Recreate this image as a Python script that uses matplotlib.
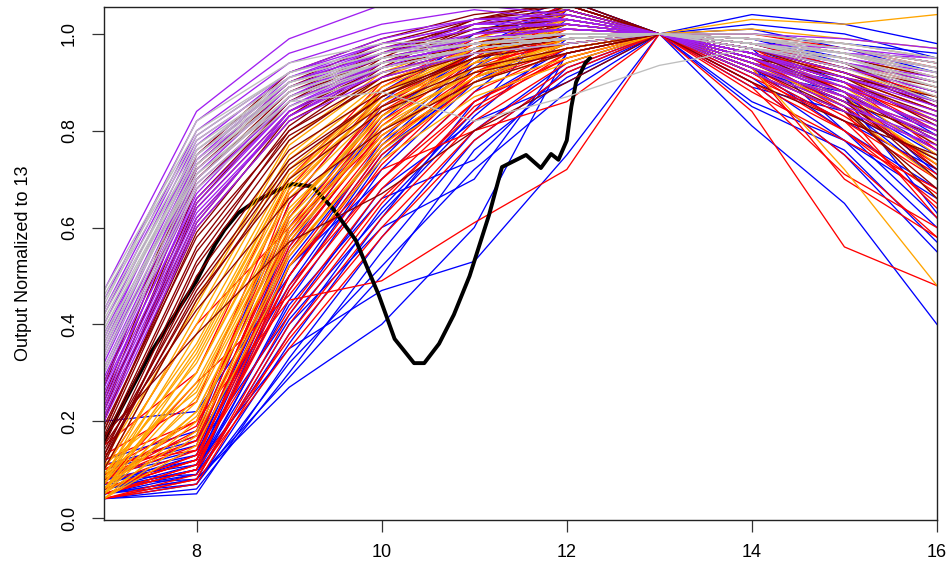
import matplotlib
matplotlib.use("Agg")
import matplotlib.pyplot as plt

plt.rcParams['font.family'] = ['Liberation Sans', 'DejaVu Sans']

x_pts = [7, 8, 9, 10, 11, 12, 13, 14, 15, 16]

blue_lines = [
    [0.05, 0.07, 0.36, 0.62, 0.86, 0.97, 1, 0.93, 0.80, 0.62],
    [0.06, 0.09, 0.45, 0.72, 0.90, 1.00, 1, 0.96, 0.88, 0.78],
    [0.08, 0.12, 0.55, 0.80, 0.93, 1.02, 1, 0.90, 0.75, 0.55],
    [0.04, 0.06, 0.30, 0.55, 0.78, 0.92, 1, 0.97, 0.92, 0.85],
    [0.10, 0.15, 0.60, 0.85, 0.97, 1.04, 1, 0.98, 0.93, 0.88],
    [0.07, 0.08, 0.27, 0.40, 0.60, 0.96, 1, 0.81, 0.65, 0.40],
    [0.05, 0.10, 0.50, 0.78, 0.95, 1.06, 1, 1.01, 0.97, 0.92],
    [0.09, 0.14, 0.42, 0.68, 0.82, 0.90, 1, 0.95, 0.85, 0.70],
    [0.06, 0.11, 0.35, 0.47, 0.53, 0.75, 1, 0.92, 0.82, 0.72],
    [0.12, 0.18, 0.65, 0.88, 0.99, 1.05, 1, 0.99, 0.95, 0.90],
    [0.05, 0.08, 0.40, 0.60, 0.70, 0.96, 1, 0.86, 0.78, 0.60],
    [0.07, 0.13, 0.58, 0.83, 0.96, 0.99, 1, 0.94, 0.90, 0.82],
    [0.04, 0.05, 0.33, 0.58, 0.80, 0.94, 1, 0.91, 0.78, 0.66],
    [0.11, 0.16, 0.48, 0.75, 0.91, 0.97, 1, 1.02, 1.00, 0.95],
    [0.06, 0.10, 0.44, 0.66, 0.74, 0.93, 1, 0.89, 0.84, 0.74],
    [0.08, 0.09, 0.52, 0.70, 0.88, 1.03, 1, 0.97, 0.80, 0.68],
    [0.20, 0.22, 0.50, 0.76, 0.90, 0.98, 1, 0.95, 0.87, 0.76],
    [0.05, 0.09, 0.38, 0.64, 0.84, 1.05, 1, 0.99, 0.94, 0.86],
    [0.07, 0.12, 0.47, 0.74, 0.93, 1.07, 1, 1.04, 1.02, 0.98],
    [0.04, 0.07, 0.32, 0.52, 0.72, 0.88, 1, 0.93, 0.86, 0.75],
    [0.09, 0.13, 0.56, 0.82, 0.97, 1.06, 1, 0.95, 0.87, 0.63],
    [0.06, 0.10, 0.41, 0.63, 0.83, 0.99, 1, 0.92, 0.88, 0.71],
    [0.10, 0.17, 0.62, 0.86, 1.00, 1.07, 1, 1.00, 0.98, 0.96],
    [0.05, 0.08, 0.29, 0.50, 0.76, 0.91, 1, 0.85, 0.76, 0.57],
    [0.08, 0.11, 0.53, 0.77, 0.94, 1.04, 1, 0.97, 0.90, 0.79],
]

red_lines = [
    [0.04, 0.08, 0.40, 0.65, 0.85, 0.95, 1, 0.92, 0.80, 0.65],
    [0.05, 0.10, 0.50, 0.75, 0.90, 0.98, 1, 0.96, 0.90, 0.80],
    [0.06, 0.12, 0.55, 0.80, 0.93, 0.99, 1, 0.94, 0.86, 0.73],
    [0.08, 0.15, 0.60, 0.84, 0.95, 1.00, 1, 0.98, 0.93, 0.87],
    [0.10, 0.17, 0.62, 0.86, 0.96, 1.01, 1, 0.97, 0.92, 0.85],
    [0.04, 0.09, 0.35, 0.58, 0.78, 0.92, 1, 0.90, 0.75, 0.58],
    [0.10, 0.20, 0.45, 0.49, 0.61, 0.72, 1, 0.94, 0.86, 0.76],
    [0.06, 0.13, 0.52, 0.72, 0.80, 0.86, 1, 0.84, 0.56, 0.48],
    [0.05, 0.11, 0.48, 0.70, 0.88, 0.97, 1, 0.93, 0.70, 0.58],
    [0.12, 0.20, 0.65, 0.88, 0.98, 1.03, 1, 0.99, 0.96, 0.91],
    [0.04, 0.07, 0.38, 0.62, 0.82, 0.94, 1, 0.88, 0.78, 0.68],
    [0.09, 0.16, 0.58, 0.82, 0.94, 0.98, 1, 0.95, 0.84, 0.62],
    [0.15, 0.30, 0.70, 0.90, 0.97, 1.02, 1, 1.00, 0.97, 0.94],
    [0.06, 0.12, 0.43, 0.68, 0.86, 0.96, 1, 0.91, 0.82, 0.70],
    [0.05, 0.10, 0.52, 0.77, 0.91, 1.05, 1, 0.97, 0.88, 0.72],
    [0.08, 0.18, 0.67, 0.87, 0.95, 0.99, 1, 0.93, 0.87, 0.80],
    [0.11, 0.14, 0.56, 0.79, 0.92, 0.99, 1, 0.96, 0.91, 0.84],
    [0.07, 0.28, 0.46, 0.70, 0.86, 0.95, 1, 0.94, 0.89, 0.82],
    [0.05, 0.11, 0.47, 0.73, 0.91, 1.04, 1, 0.98, 0.94, 0.89],
    [0.07, 0.14, 0.57, 0.81, 0.95, 1.06, 1, 0.96, 0.90, 0.76],
    [0.04, 0.08, 0.42, 0.66, 0.84, 0.96, 1, 0.90, 0.80, 0.67],
    [0.09, 0.19, 0.63, 0.85, 0.96, 1.02, 1, 0.93, 0.83, 0.71],
    [0.06, 0.13, 0.50, 0.76, 0.92, 1.01, 1, 0.99, 0.97, 0.93],
    [0.13, 0.24, 0.68, 0.89, 0.99, 1.06, 1, 0.98, 0.95, 0.90],
    [0.05, 0.10, 0.37, 0.60, 0.80, 0.93, 1, 0.89, 0.71, 0.60],
    [0.08, 0.16, 0.59, 0.83, 0.97, 1.05, 1, 0.95, 0.85, 0.73],
    [0.06, 0.12, 0.54, 0.78, 0.90, 0.97, 1, 0.92, 0.82, 0.64],
    [0.10, 0.40, 0.60, 0.79, 0.91, 0.97, 1, 0.96, 0.92, 0.86],
]

black_x = [7.0, 7.5, 8.0, 8.2, 8.3, 8.45, 8.64, 8.85, 9.03, 9.25, 9.47, 9.72,
           9.86, 9.97, 10.14, 10.35, 10.46, 10.62, 10.78, 10.95, 11.16, 11.3,
           11.56, 11.72, 11.83, 11.91, 12.0, 12.05, 12.1, 12.2, 12.25]
black_y = [0.16, 0.34, 0.49, 0.565, 0.595, 0.63, 0.655, 0.675, 0.69, 0.685,
           0.64, 0.574, 0.51, 0.46, 0.37, 0.32, 0.32, 0.36, 0.42, 0.50,
           0.626, 0.725, 0.75, 0.723, 0.752, 0.74, 0.78, 0.85, 0.90, 0.94, 0.95]

orange_lines = [
    [0.04, 0.20, 0.58, 0.78, 0.90, 0.96, 1, 0.96, 0.90, 0.82],
    [0.05, 0.25, 0.62, 0.82, 0.92, 0.98, 1, 0.97, 0.92, 0.86],
    [0.06, 0.30, 0.66, 0.85, 0.94, 0.99, 1, 0.95, 0.88, 0.78],
    [0.07, 0.35, 0.70, 0.87, 0.95, 1.00, 1, 0.98, 0.94, 0.90],
    [0.08, 0.28, 0.64, 0.83, 0.93, 0.97, 1, 0.93, 0.72, 0.48],
    [0.10, 0.40, 0.74, 0.89, 0.97, 1.02, 1, 0.99, 0.96, 0.93],
    [0.05, 0.18, 0.55, 0.76, 0.89, 0.95, 1, 0.94, 0.86, 0.74],
    [0.12, 0.44, 0.77, 0.91, 0.98, 1.03, 1, 1.00, 0.98, 0.95],
    [0.06, 0.22, 0.60, 0.80, 0.91, 0.97, 1, 0.96, 0.91, 0.84],
    [0.09, 0.32, 0.68, 0.86, 0.95, 1.01, 1, 0.97, 0.93, 0.88],
    [0.04, 0.15, 0.52, 0.74, 0.87, 0.94, 1, 0.92, 0.84, 0.70],
    [0.07, 0.38, 0.72, 0.88, 0.96, 0.99, 1, 0.98, 0.95, 0.91],
    [0.11, 0.26, 0.63, 0.84, 0.93, 0.98, 1, 0.95, 0.89, 0.80],
    [0.05, 0.33, 0.69, 0.86, 0.94, 1.06, 1, 1.03, 1.02, 1.04],
    [0.08, 0.42, 0.75, 0.90, 0.97, 1.01, 1, 0.97, 0.92, 0.87],
    [0.06, 0.24, 0.61, 0.81, 0.92, 0.97, 1, 0.94, 0.85, 0.66],
    [0.05, 0.22, 0.59, 0.80, 0.93, 1.03, 1, 0.98, 0.95, 0.91],
    [0.07, 0.30, 0.67, 0.87, 0.97, 1.05, 1, 0.96, 0.89, 0.77],
    [0.06, 0.27, 0.63, 0.83, 0.95, 1.02, 1, 0.99, 0.97, 0.94],
    [0.09, 0.36, 0.71, 0.88, 0.96, 1.00, 1, 0.95, 0.87, 0.73],
    [0.04, 0.17, 0.54, 0.77, 0.90, 0.98, 1, 0.93, 0.87, 0.79],
    [0.10, 0.45, 0.78, 0.92, 0.99, 1.04, 1, 1.01, 0.99, 0.97],
    [0.08, 0.34, 0.70, 0.88, 0.97, 1.03, 1, 0.97, 0.91, 0.82],
    [0.06, 0.21, 0.57, 0.79, 0.91, 0.99, 1, 0.94, 0.88, 0.75],
]

darkred_lines = [
    [0.10, 0.45, 0.72, 0.85, 0.93, 0.97, 1, 0.95, 0.88, 0.78],
    [0.12, 0.50, 0.76, 0.88, 0.95, 0.98, 1, 0.97, 0.92, 0.85],
    [0.15, 0.55, 0.79, 0.90, 0.96, 0.99, 1, 0.96, 0.90, 0.82],
    [0.18, 0.60, 0.82, 0.92, 0.97, 1.00, 1, 0.98, 0.94, 0.90],
    [0.20, 0.64, 0.84, 0.93, 0.98, 1.02, 1, 0.94, 0.86, 0.72],
    [0.22, 0.68, 0.87, 0.95, 0.99, 1.01, 1, 0.97, 0.93, 0.88],
    [0.25, 0.72, 0.89, 0.97, 1.02, 1.04, 1, 0.99, 0.96, 0.92],
    [0.14, 0.48, 0.74, 0.87, 0.96, 1.06, 1, 0.96, 0.91, 0.84],
    [0.17, 0.38, 0.57, 0.67, 0.80, 0.90, 1, 0.92, 0.84, 0.74],
    [0.11, 0.52, 0.78, 0.91, 1.00, 1.05, 1, 0.95, 0.89, 0.80],
    [0.19, 0.58, 0.80, 0.91, 0.96, 0.98, 1, 0.93, 0.85, 0.66],
    [0.27, 0.75, 0.92, 0.99, 1.04, 1.06, 1, 0.98, 0.95, 0.91],
    [0.13, 0.46, 0.70, 0.84, 0.92, 0.96, 1, 0.90, 0.82, 0.75],
    [0.21, 0.62, 0.83, 0.93, 0.97, 1.00, 1, 0.97, 0.92, 0.86],
    [0.16, 0.56, 0.81, 0.94, 1.01, 1.03, 1, 0.96, 0.88, 0.77],
    [0.23, 0.66, 0.86, 0.94, 0.98, 0.99, 1, 0.95, 0.91, 0.87],
    [0.13, 0.53, 0.80, 0.93, 1.02, 1.07, 1, 0.97, 0.93, 0.89],
    [0.17, 0.59, 0.83, 0.95, 1.03, 1.06, 1, 0.95, 0.87, 0.70],
    [0.24, 0.70, 0.88, 0.96, 1.01, 1.03, 1, 0.98, 0.94, 0.85],
    [0.12, 0.47, 0.73, 0.87, 0.95, 1.00, 1, 0.93, 0.84, 0.68],
    [0.20, 0.65, 0.86, 0.96, 1.03, 1.07, 1, 0.99, 0.97, 0.94],
    [0.15, 0.43, 0.66, 0.80, 0.90, 0.96, 1, 0.94, 0.86, 0.79],
    [0.28, 0.73, 0.90, 0.98, 1.03, 1.05, 1, 0.96, 0.90, 0.83],
    [0.18, 0.61, 0.84, 0.94, 1.00, 1.02, 1, 0.97, 0.91, 0.81],
]

purple_lines = [
    [0.20, 0.60, 0.82, 0.91, 0.96, 0.98, 1, 0.96, 0.90, 0.82],
    [0.25, 0.65, 0.85, 0.93, 0.97, 0.99, 1, 0.97, 0.92, 0.86],
    [0.30, 0.70, 0.87, 0.94, 0.98, 1.00, 1, 0.95, 0.88, 0.78],
    [0.35, 0.74, 0.89, 0.95, 0.99, 1.01, 1, 0.98, 0.94, 0.90],
    [0.40, 0.78, 0.91, 0.97, 1.01, 1.02, 1, 0.96, 0.90, 0.84],
    [0.45, 0.82, 0.96, 1.02, 1.05, 1.03, 1, 0.99, 0.96, 0.93],
    [0.47, 0.84, 0.99, 1.06, 1.06, 1.04, 1, 0.98, 0.97, 0.95],
    [0.22, 0.62, 0.83, 0.92, 0.97, 0.99, 1, 0.94, 0.86, 0.76],
    [0.28, 0.68, 0.86, 0.93, 0.97, 0.99, 1, 0.97, 0.93, 0.88],
    [0.33, 0.72, 0.88, 0.95, 0.98, 1.00, 1, 0.93, 0.87, 0.80],
    [0.38, 0.76, 0.90, 0.96, 0.99, 1.01, 1, 0.97, 0.94, 0.91],
    [0.24, 0.64, 0.84, 0.92, 0.96, 0.98, 1, 0.92, 0.84, 0.77],
    [0.42, 0.79, 0.92, 0.98, 1.02, 1.03, 1, 1.00, 0.99, 0.97],
    [0.31, 0.71, 0.89, 0.96, 1.00, 1.01, 1, 0.95, 0.89, 0.83],
    [0.27, 0.66, 0.85, 0.94, 0.98, 1.00, 1, 0.96, 0.91, 0.86],
    [0.36, 0.75, 0.90, 0.96, 0.99, 1.00, 1, 0.94, 0.88, 0.81],
    [0.21, 0.61, 0.84, 0.94, 1.00, 1.03, 1, 0.95, 0.87, 0.79],
    [0.26, 0.67, 0.87, 0.96, 1.02, 1.05, 1, 0.98, 0.95, 0.92],
    [0.32, 0.73, 0.90, 0.97, 1.01, 1.02, 1, 0.96, 0.91, 0.85],
    [0.37, 0.77, 0.92, 0.99, 1.03, 1.04, 1, 0.99, 0.97, 0.94],
    [0.43, 0.80, 0.94, 1.00, 1.03, 1.03, 1, 0.97, 0.93, 0.88],
    [0.29, 0.69, 0.86, 0.94, 0.98, 1.00, 1, 0.93, 0.85, 0.78],
    [0.34, 0.74, 0.91, 0.98, 1.02, 1.02, 1, 0.98, 0.96, 0.95],
    [0.23, 0.63, 0.83, 0.93, 0.99, 1.01, 1, 0.96, 0.89, 0.80],
]

gray_lines = [
    [0.30, 0.68, 0.85, 0.92, 0.96, 0.98, 1, 0.98, 0.94, 0.88],
    [0.33, 0.70, 0.87, 0.93, 0.97, 0.99, 1, 0.99, 0.96, 0.91],
    [0.36, 0.72, 0.88, 0.94, 0.97, 0.99, 1, 0.98, 0.95, 0.90],
    [0.39, 0.74, 0.89, 0.95, 0.98, 0.99, 1, 0.99, 0.97, 0.93],
    [0.42, 0.76, 0.90, 0.95, 0.98, 1.00, 1, 0.98, 0.95, 0.89],
    [0.45, 0.78, 0.91, 0.96, 0.98, 1.00, 1, 0.99, 0.96, 0.92],
    [0.47, 0.80, 0.92, 0.97, 0.99, 1.00, 1, 0.99, 0.97, 0.94],
    [0.44, 0.82, 0.94, 0.98, 0.99, 1.00, 1, 1.00, 0.98, 0.95],
    [0.35, 0.73, 0.88, 0.94, 0.97, 0.99, 1, 0.97, 0.93, 0.86],
    [0.40, 0.75, 0.89, 0.94, 0.97, 0.99, 1, 0.98, 0.94, 0.87],
    [0.38, 0.71, 0.86, 0.88, 0.82, 0.87, 0.935, 0.97, 0.95, 0.90],
    [0.43, 0.77, 0.90, 0.95, 0.98, 0.99, 1, 0.98, 0.96, 0.93],
    [0.31, 0.69, 0.86, 0.93, 0.97, 0.99, 1, 0.99, 0.97, 0.94],
    [0.37, 0.73, 0.89, 0.95, 0.98, 0.99, 1, 0.98, 0.96, 0.92],
    [0.41, 0.76, 0.91, 0.96, 0.99, 1.00, 1, 0.99, 0.98, 0.95],
    [0.46, 0.79, 0.92, 0.97, 0.99, 1.00, 1, 0.98, 0.95, 0.90],
    [0.34, 0.71, 0.87, 0.94, 0.97, 0.99, 1, 0.97, 0.94, 0.89],
    [0.39, 0.75, 0.90, 0.95, 0.98, 0.99, 1, 0.99, 0.96, 0.91],
]

x_ticks = [8, 10, 12, 14, 16]
y_ticks = [0.0, 0.2, 0.4, 0.6, 0.8, 1.0]
y_label = "Output Normalized to 13"

fig = plt.figure(figsize=(9.52, 5.69), dpi=100)
ax = fig.add_axes([104 / 952, 1 - 519.5 / 569, (937 - 104) / 952, (519.5 - 7.3) / 569])

lw = 0.95
for row in blue_lines:
    ax.plot(x_pts, row, color='#0000FF', lw=lw)
for row in red_lines:
    ax.plot(x_pts, row, color='#FF0000', lw=lw)
ax.plot(black_x, black_y, color='black', lw=2.8, solid_joinstyle='round')
for row in orange_lines:
    ax.plot(x_pts, row, color='#FFA500', lw=lw)
for row in darkred_lines:
    ax.plot(x_pts, row, color='#8B0000', lw=lw)
for row in purple_lines:
    ax.plot(x_pts, row, color='#A020F0', lw=lw)
for row in gray_lines:
    ax.plot(x_pts, row, color='#BEBEBE', lw=lw)

ax.set_xlim(7, 16)
ax.set_ylim(-0.003, 1.055)
ax.set_xticks(x_ticks)
ax.set_xticklabels([str(v) for v in x_ticks])
ax.set_yticks(y_ticks)
ax.set_yticklabels([f"{v:.1f}" for v in y_ticks], rotation=90, va='center')
ax.tick_params(axis='both', length=8.8, width=0.9, labelsize=13, color='#333333')
ax.tick_params(axis='x', pad=9)
ax.tick_params(axis='y', pad=10)
for s in ax.spines.values():
    s.set_linewidth(1.0)
    s.set_color('#222222')
ax.set_ylabel(y_label, fontsize=13, labelpad=21)

fig.savefig("out.png", dpi=100)
